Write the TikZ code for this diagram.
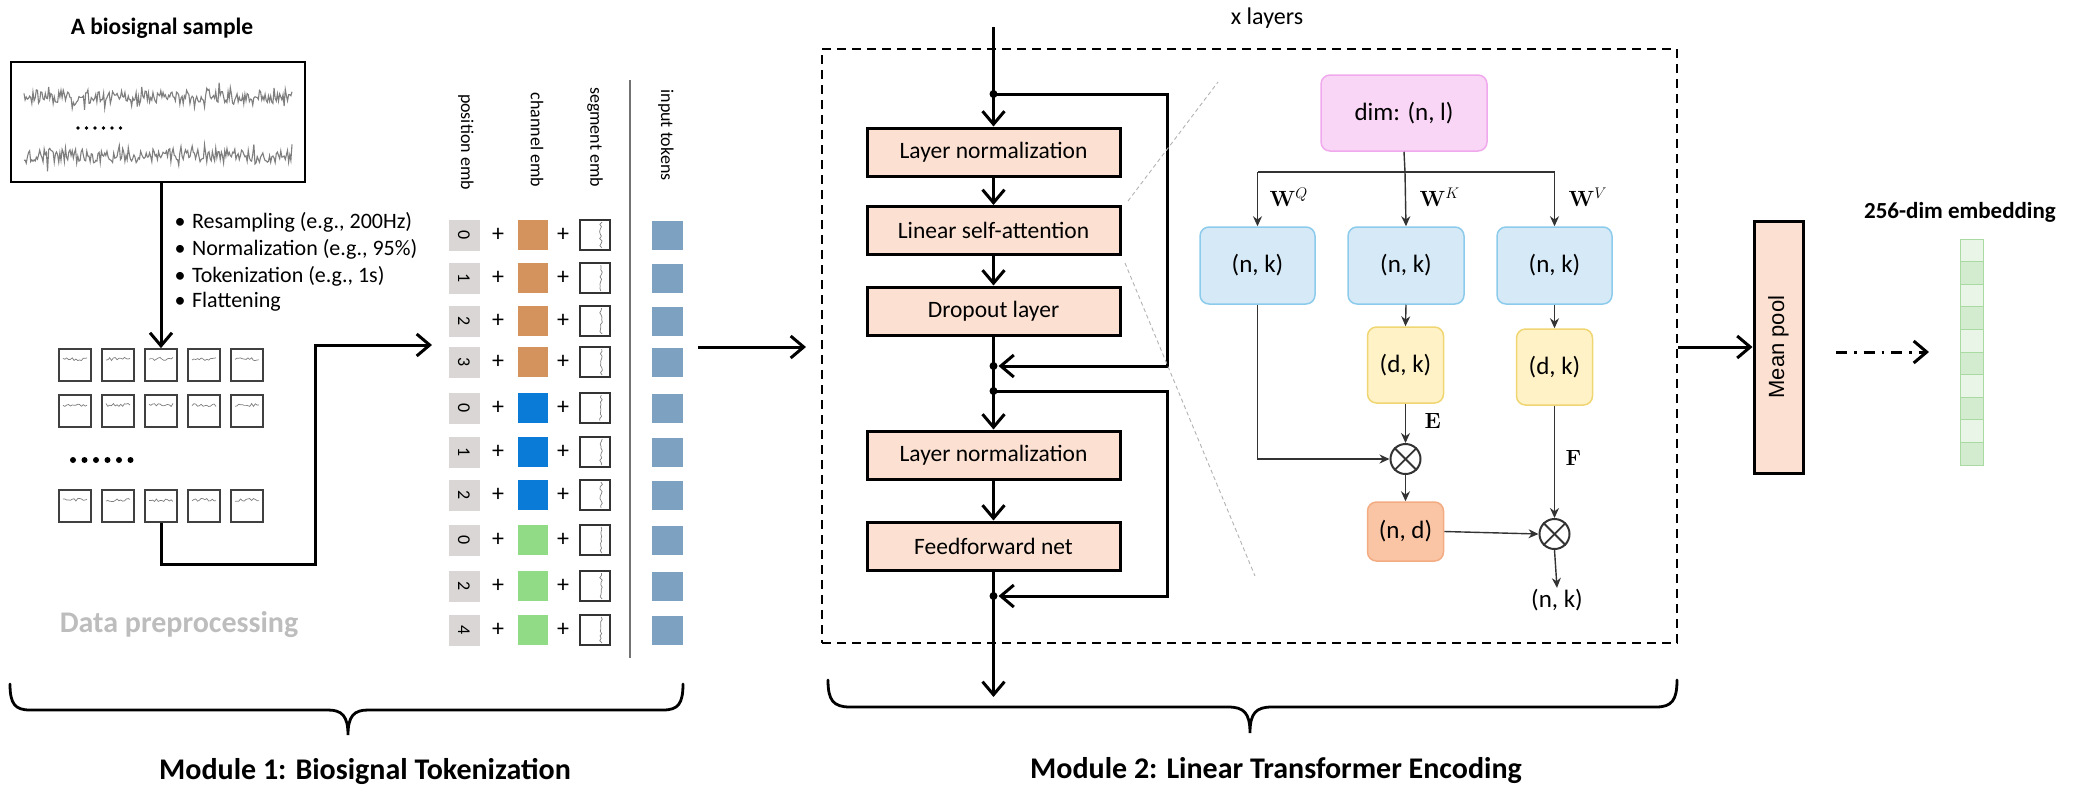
\RequirePackage{fix-cm}
\documentclass[tikz,border=0pt]{standalone}
\usepackage[no-math]{fontspec}
\setmainfont{Carlito}
\newfontfamily\arialf{Liberation Sans}
\usetikzlibrary{arrows.meta,calc}
\definecolor{peach}{HTML}{FCE1D2}
\definecolor{pinkF}{HTML}{F9D6F6}
\definecolor{pinkD}{HTML}{F0A9EC}
\definecolor{blueF}{HTML}{D6E9F7}
\definecolor{blueD}{HTML}{8CCBEB}
\definecolor{yelF}{HTML}{FFF2C6}
\definecolor{yelD}{HTML}{F0D672}
\definecolor{orF}{HTML}{F9C5A5}
\definecolor{orD}{HTML}{F3AC82}
\definecolor{posG}{HTML}{DAD6D6}
\definecolor{chO}{HTML}{D4935D}
\definecolor{chB}{HTML}{0B7BD8}
\definecolor{chG}{HTML}{92DB86}
\definecolor{tokB}{HTML}{7DA2C1}
\definecolor{embA}{HTML}{E9F5E7}
\definecolor{embB}{HTML}{D3EBCF}
\definecolor{embD}{HTML}{A8DAA2}
\definecolor{sigc}{HTML}{7E7E7E}
\definecolor{preG}{HTML}{BDBDBD}
\newcommand\fsz[1]{\fontsize{#1}{#1}\selectfont}
\tikzset{
  thk/.style={line width=3pt},
  arr/.style={line width=3pt, -{Straight Barb[length=13pt,width=22pt]}},
  tline/.style={line width=1.4pt, draw=black!80},
  tarr/.style={line width=1.4pt, draw=black!80, -{Stealth[length=10pt,width=9pt]}},
  pbox/.style={draw, line width=3pt, fill=peach, minimum width=253pt, minimum height=48pt, inner sep=0pt, font=\fsz{23.5}},
  gbox/.style={draw=black!75, line width=1.8pt, minimum size=32pt, inner sep=0pt},
  posbox/.style={fill=posG, minimum size=31pt, inner sep=0pt, font=\fsz{18}, rotate=-90},
  chbox/.style={fill=#1, minimum size=30pt, inner sep=0pt},
  segbox/.style={draw=black!80, line width=1.3pt, minimum size=30pt, inner sep=0pt},
  tokbox/.style={fill=tokB, minimum width=31pt, minimum height=29pt, inner sep=0pt},
  plus/.style={font=\fsz{24}, inner sep=0pt},
  vlab/.style={font=\fsz{18}, rotate=-90, inner sep=0pt},
  rbox/.style={rounded corners=9pt, line width=1.5pt, inner sep=0pt, font=\fsz{25}},
  otimes/.style={circle, draw=black!80, line width=2pt, minimum size=30pt, inner sep=0pt},
  zoomline/.style={draw=black!30, line width=0.9pt, dash pattern=on 4pt off 3pt},
  brace/.style={line width=2.8pt, line cap=round},
  mlab/.style={font=\bfseries\fsz{30}},
}
\begin{document}
\begin{tikzpicture}[x=1pt,y=-1pt]
\useasboundingbox (0,0) rectangle (2073,788);
\pgfmathsetseed{4242}
% ---------------- Module 1 ----------------
\node[font=\bfseries\fsz{23.5}] (title) at (162,28) {A biosignal sample};
\node[draw, line width=2.6pt, minimum width=294pt, minimum height=120pt, inner sep=0pt] (sig) at (158,122) {};
\draw[sigc, line width=1.1pt] plot[domain=24:292, samples=240] (\x,{97+6*rand+14*rand*rand*rand});
\draw[sigc, line width=1.1pt] plot[domain=24:292, samples=240] (\x,{156+7*rand+15*rand*rand*rand});
\foreach \i in {0,...,5} \fill (78+8.5*\i,128) circle (1.8);

\node[anchor=west, font=\fsz{22}] (b1) at (171,222) {\textbullet\hspace{0.3em}Resampling (e.g., 200Hz)};
\node[anchor=west, font=\fsz{22}] (b2) at (171,249) {\textbullet\hspace{0.3em}Normalization (e.g., 95\%)};
\node[anchor=west, font=\fsz{22}] (b3) at (171,276) {\textbullet\hspace{0.3em}Tokenization (e.g., 1s)};
\node[anchor=west, font=\fsz{22}] (b4) at (171,302) {\textbullet\hspace{0.3em}Flattening};

\foreach \r/\yy in {1/349,2/395,3/490} {
  \foreach \c/\xx in {1/59,2/102,3/145,4/188,5/231} {
    \node[gbox] (g\r\c) at (\xx+16,\yy+16) {};
    \draw[sigc, line width=0.7pt] plot[domain=\xx+4:\xx+28, samples=14] (\x,{\yy+10+1.6*rand});
  }
}
\foreach \i in {0,...,5} \fill (73+11.5*\i,460) circle (3);

\draw[arr] (g13.north |- sig.south) -- (g13.north);
\coordinate (lb) at (315,564);
\coordinate (tokin) at (432,345);
\draw[arr] (g33.south) |- (lb) |- (tokin);

% token columns
\node[vlab] (lpos) at (466,142) {position emb};
\node[vlab] (lch) at (537,140) {channel emb};
\node[vlab] (lseg) at (595,137) {segment emb};
\node[vlab] (ltok) at (666,135) {input tokens};
\coordinate (sepT) at (630,80);
\coordinate (sepB) at (630,658);
\draw[black!55, line width=1.5pt] (sepT) -- (sepB);

\foreach \i/\yy/\n/\cc in {1/235/0/chO,2/278/1/chO,3/321/2/chO,4/362/3/chO,5/408/0/chB,6/452/1/chB,7/495/2/chB,8/540/0/chG,9/586/2/chG,10/630/4/chG} {
  \node[posbox] (p\i) at (464,\yy) {\n};
  \node[plus] (pa\i) at (498,\yy) {+};
  \node[chbox=\cc] (c\i) at (533,\yy) {};
  \node[plus] (pb\i) at (563,\yy) {+};
  \node[segbox] (s\i) at (595,\yy) {};
  \draw[sigc, line width=0.7pt] plot[domain=\yy-13:\yy+13, samples=12] ({601+1.4*rand},\x);
  \node[tokbox] (t\i) at (667,\yy) {};
}

% brace 1 and labels
\draw[brace] (10,684) .. controls (10,704) and (15,710) .. (30,710) -- (328,710) .. controls (342,710) and (348,716) .. (348,735) .. controls (348,716) and (354,710) .. (368,710) -- (663,710) .. controls (678,710) and (683,704) .. (683,684);
\node[mlab, text=preG] (prep) at (179,625) {Data preprocessing};
\node[mlab] (m1lab) at (365,771) {Module 1: Biosignal Tokenization};

% ---------------- Module 2 ----------------
\coordinate (a2s) at (698,347);
\coordinate (a2e) at (806,347);
\draw[arr] (a2s) -- (a2e);
\node[draw, line width=2pt, dash pattern=on 9pt off 6pt, minimum width=855pt, minimum height=594pt, inner sep=0pt] (mod2) at (1249.5,346) {};
\node[font=\fsz{24}] (xl) at (1267,18) {x layers};

\node[pbox] (ln1) at (993.5,152) {Layer normalization};
\node[pbox] (lsa) at (993.5,230.5) {Linear self-attention};
\node[pbox] (drop) at (993.5,311) {Dropout layer};
\node[pbox] (ln2) at (993.5,455) {Layer normalization};
\node[pbox] (ffn) at (993.5,546) {Feedforward net};

\coordinate (top) at (993.5,27);
\coordinate (j1) at (993.5,94);
\coordinate (j2) at (993.5,366);
\coordinate (j3) at (993.5,391);
\coordinate (j4) at (993.5,596);
\coordinate (bot) at (993.5,697);
\coordinate (s1a) at (1167,94);
\coordinate (s1b) at (1167,366);
\coordinate (s2a) at (1167,391);
\coordinate (s2b) at (1167,596);

\draw[thk] (top) -- (j1);
\draw[arr] (j1) -- (ln1.north);
\draw[arr] (ln1.south) -- (lsa.north);
\draw[arr] (lsa.south) -- (drop.north);
\draw[thk] (drop.south) -- (j3);
\draw[arr] (j3) -- (ln2.north);
\draw[arr] (ln2.south) -- (ffn.north);
\draw[arr] (ffn.south) -- (bot);
\draw[arr] (j1) -- (s1a) -- (s1b) -- ($(j2)+(5,0)$);
\draw[arr] (j3) -- (s2a) -- (s2b) -- ($(j4)+(5,0)$);
\foreach \j in {j1,j2,j3,j4} \fill (\j) circle (4);

% zoom lines
\coordinate (z1a) at (1128,201);
\coordinate (z1b) at (1218,82);
\coordinate (z2a) at (1125,263);
\coordinate (z2b) at (1255,576);
\draw[zoomline] (z1a) -- (z1b);
\draw[zoomline] (z2a) -- (z2b);

% attention panel
\node[rbox, draw=pinkD, fill=pinkF, minimum width=166pt, minimum height=76pt] (dim) at (1404,113) {dim: (n, l)};
\node[rbox, draw=blueD, fill=blueF, minimum width=115pt, minimum height=77pt] (Q) at (1257.5,265.5) {(n, k)};
\node[rbox, draw=blueD, fill=blueF, minimum width=116pt, minimum height=77pt] (K) at (1406,265.5) {(n, k)};
\node[rbox, draw=blueD, fill=blueF, minimum width=115pt, minimum height=77pt] (V) at (1554.5,265.5) {(n, k)};
\node[rbox, draw=yelD, fill=yelF, minimum width=76pt, minimum height=76pt] (yk) at (1405.5,365) {(d, k)};
\node[rbox, draw=yelD, fill=yelF, minimum width=76pt, minimum height=76pt] (yv) at (1554.5,367) {(d, k)};
\node[otimes] (m1) at (1405.5,459) {};
\node[rbox, draw=orD, fill=orF, minimum width=76pt, minimum height=59pt] (nd) at (1405.5,531.5) {(n, d)};
\node[otimes] (m2) at (1554.5,534) {};
\node[font=\fsz{25}, inner sep=1pt] (out) at (1557,600) {(n, k)};
\foreach \m in {m1,m2} {
  \draw[line width=1.8pt, black!80] (\m.north east) -- (\m.south west);
  \draw[line width=1.8pt, black!80] (\m.north west) -- (\m.south east);
}
\coordinate (br) at (1405,172);
\draw[tline] (dim.south) -- (br);
\draw[tline] (Q.north |- br) -- (V.north |- br);
\draw[tarr] (Q.north |- br) -- (Q.north);
\draw[tarr] (br) -- (K.north);
\draw[tarr] (V.north |- br) -- (V.north);
\node[anchor=west, font=\fsz{22}] (wq) at (1266,197) {$\mathbf{W}^{Q}$};
\node[anchor=west, font=\fsz{22}] (wk) at (1416,197) {$\mathbf{W}^{K}$};
\node[anchor=west, font=\fsz{22}] (wv) at (1565,197) {$\mathbf{W}^{V}$};
\draw[tarr] (K.south) -- (yk.north);
\draw[tarr] (V.south) -- (yv.north);
\draw[tarr] (yk.south) -- (m1.north);
\draw[tarr] (Q.south) |- (m1.west);
\draw[tarr] (m1.south) -- (nd.north);
\draw[tarr] (nd.east) -- (m2.west);
\draw[tarr] (yv.south) -- (m2.north);
\draw[tarr] (m2.south) -- (out.north);
\node[anchor=west, font=\fsz{22}] (elab) at (1421,421) {$\mathbf{E}$};
\node[anchor=west, font=\fsz{22}] (flab) at (1562,458) {$\mathbf{F}$};

% brace 2
\draw[brace] (828,680) .. controls (828,700) and (833,707) .. (850,707) -- (1228,707) .. controls (1244,707) and (1250,713) .. (1250,733) .. controls (1250,713) and (1256,707) .. (1272,707) -- (1656,707) .. controls (1672,707) and (1677,700) .. (1677,680);
\node[mlab] (m2lab) at (1276,771) {Module 2: Linear Transformer Encoding};

% ---------------- Output ----------------
\node[draw, line width=3pt, fill=peach, minimum width=49pt, minimum height=252pt, inner sep=0pt] (mp) at (1778.5,347) {};
\node[font=\arialf\fsz{22}, rotate=90] (mpl) at (mp.center) {Mean pool};
\draw[arr] (mod2.east |- mp.west) -- (mp.west);
\coordinate (dd1) at (1836,352);
\coordinate (dd2) at (1929,352);
\draw[arr, dash pattern=on 11pt off 7pt on 2.5pt off 7pt] (dd1) -- (dd2);
\foreach \i/\cc in {1/embA,2/embB,3/embA,4/embB,5/embA,6/embB,7/embA,8/embB,9/embA,10/embB} {
  \node[fill=\cc, draw=embD, line width=1pt, minimum width=23pt, minimum height=22.6pt, inner sep=0pt] (e\i) at (1971.5,{239+22.6*(\i-0.5)}) {};
}
\node[font=\bfseries\fsz{23}] (elab2) at (1960,212) {256-dim embedding};
\end{tikzpicture}
\end{document}
